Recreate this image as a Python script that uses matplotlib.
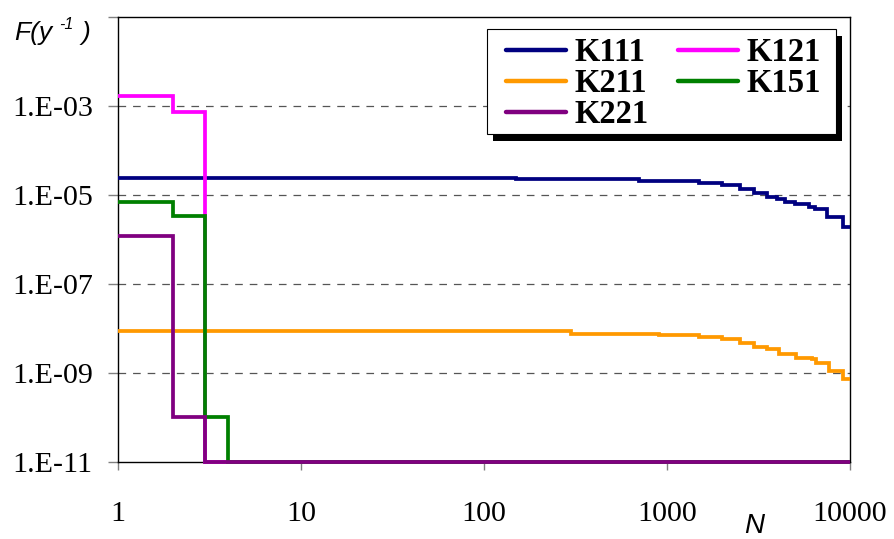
import matplotlib
matplotlib.use("Agg")
import matplotlib.pyplot as plt
from matplotlib.ticker import NullLocator
from matplotlib.patches import Rectangle
from matplotlib.transforms import IdentityTransform

plt.rcParams["lines.scale_dashes"] = False

# Failure frequency F (per year) versus number of items N, stepwise
k111_n = [1, 150, 700, 1500, 2000, 2500, 3000, 3500, 4000, 4400, 5000, 6000, 6400, 7500, 9100]
k111_f = [2.42e-5, 2.23e-5, 2.01e-5, 1.87e-5, 1.63e-5, 1.33e-5, 1.08e-5, 8.8e-6,
          7.9e-6, 6.9e-6, 6.2e-6, 5.4e-6, 4.7e-6, 3.1e-6, 1.87e-6]

k211_n = [1, 300, 900, 1500, 2000, 2500, 3000, 3500, 4100, 5100, 6200, 6500, 7650, 9100]
k211_f = [8.5e-9, 7.6e-9, 6.9e-9, 6.25e-9, 5.6e-9, 4.6e-9, 3.7e-9, 3.4e-9,
          2.7e-9, 2.2e-9, 2.0e-9, 1.63e-9, 1.12e-9, 7.1e-10]

k121_n = [1, 2, 3]
k121_f = [1.67e-3, 7.3e-4, 1e-11]

k151_n = [1, 2, 3, 4]
k151_f = [7.0e-6, 3.4e-6, 1e-10, 1e-11]

k221_n = [1, 2, 3]
k221_f = [1.19e-6, 1e-10, 1e-11]

n_max = 10000

x_ticks = [1, 10, 100, 1000, 10000]
x_labels = ["1", "10", "100", "1000", "10000"]
y_ticks = [1e-11, 1e-9, 1e-7, 1e-5, 1e-3, 1e-1]
y_labels = ["1.E-11", "1.E-09", "1.E-07", "1.E-05", "1.E-03", ""]

W, H = 895, 539
fig = plt.figure(figsize=(W / 100, H / 100), dpi=100)
L, R, T, B = 118, 850, 17, 461.7
ax = fig.add_axes([L / W, 1 - B / H, (R - L) / W, (B - T) / H])

ax.set_xscale("log")
ax.set_yscale("log")
ax.set_xlim(1, 10000)
ax.set_ylim(1e-11, 1e-1)

series = [
    ("K111", k111_n, k111_f, "#000080", 3.0),
    ("K121", k121_n, k121_f, "#FF00FF", 3.1),
    ("K211", k211_n, k211_f, "#FF9900", 3.2),
    ("K151", k151_n, k151_f, "#008000", 3.3),
    ("K221", k221_n, k221_f, "#800080", 3.4),
]
handles = {}
for name, n, f, color, z in series:
    xs = list(n) + [n_max]
    ys = list(f) + [f[-1]]
    (ln,) = ax.plot(xs, ys, drawstyle="steps-post", color=color, lw=2.7,
                    label=name, zorder=z, clip_on=False,
                    solid_joinstyle="miter", solid_capstyle="butt")
    handles[name] = ln

# dashed horizontal grid at the labelled decades
for yv in [1e-9, 1e-7, 1e-5, 1e-3]:
    ax.axhline(yv, color="#555555", lw=0.9, dashes=(5.5, 5.0), zorder=1)

serif = "Liberation Serif"
ax.set_xticks(x_ticks)
ax.set_xticklabels(x_labels, fontfamily=serif, fontsize=21.6)
ax.set_yticks(y_ticks)
ax.set_yticklabels(y_labels, fontfamily=serif, fontsize=21.6)
ax.xaxis.set_minor_locator(NullLocator())
ax.yaxis.set_minor_locator(NullLocator())
ax.tick_params(axis="x", direction="out", length=6, width=1, color="#808080", pad=22)
ax.tick_params(axis="y", direction="out", length=7.2, width=1, color="#808080", pad=11)

for s in ax.spines.values():
    s.set_color("black")
    s.set_linewidth(1.0)

# legend: entries without frame, then a boxed panel with a solid offset shadow
order = ["K111", "K211", "K221", "K121", "K151"]
leg = ax.legend([handles[k] for k in order], order, ncol=2, loc="upper right",
                bbox_to_anchor=(0.960, 0.954), borderaxespad=0,
                prop={"family": serif, "weight": "bold", "size": 23.5},
                handlelength=1.84, handletextpad=0.24, columnspacing=0.92,
                labelspacing=0.0, borderpad=0.0, frameon=False)
for h in leg.legend_handles:
    h.set_linewidth(3.2)
    h.set_solid_capstyle("round")
leg.set_zorder(6)

fig.canvas.draw()
bb = leg.get_window_extent()
pad_l, pad_r, pad_t, pad_b = 19, 15, 8.5, 4
fx0, fy0 = bb.x0 - pad_l, bb.y0 - pad_b
fw, fh = bb.width + pad_l + pad_r, bb.height + pad_t + pad_b
shadow = Rectangle((fx0 + 6, fy0 - 7), fw, fh, transform=IdentityTransform(),
                   facecolor="black", edgecolor="none", zorder=4.8, clip_on=False)
panel = Rectangle((fx0, fy0), fw, fh, transform=IdentityTransform(),
                  facecolor="white", edgecolor="black", lw=0.8, zorder=4.9,
                  clip_on=False)
ax.add_patch(shadow)
ax.add_patch(panel)

# axis titles
def px(x, y):
    return x / W, 1 - y / H

sans = "Liberation Sans"
fig.text(*px(14, 40), "F(y", fontfamily=sans, style="italic", fontsize=19, va="baseline")
fig.text(*px(59, 29), "-1", fontfamily=sans, style="italic", fontsize=11.5, va="baseline")
fig.text(*px(82, 40), ")", fontfamily=sans, style="italic", fontsize=19, va="baseline")
fig.text(*px(754, 533), "N", fontfamily=sans, style="italic", fontsize=20,
         va="baseline", ha="center")

fig.savefig("out.png", dpi=100)
